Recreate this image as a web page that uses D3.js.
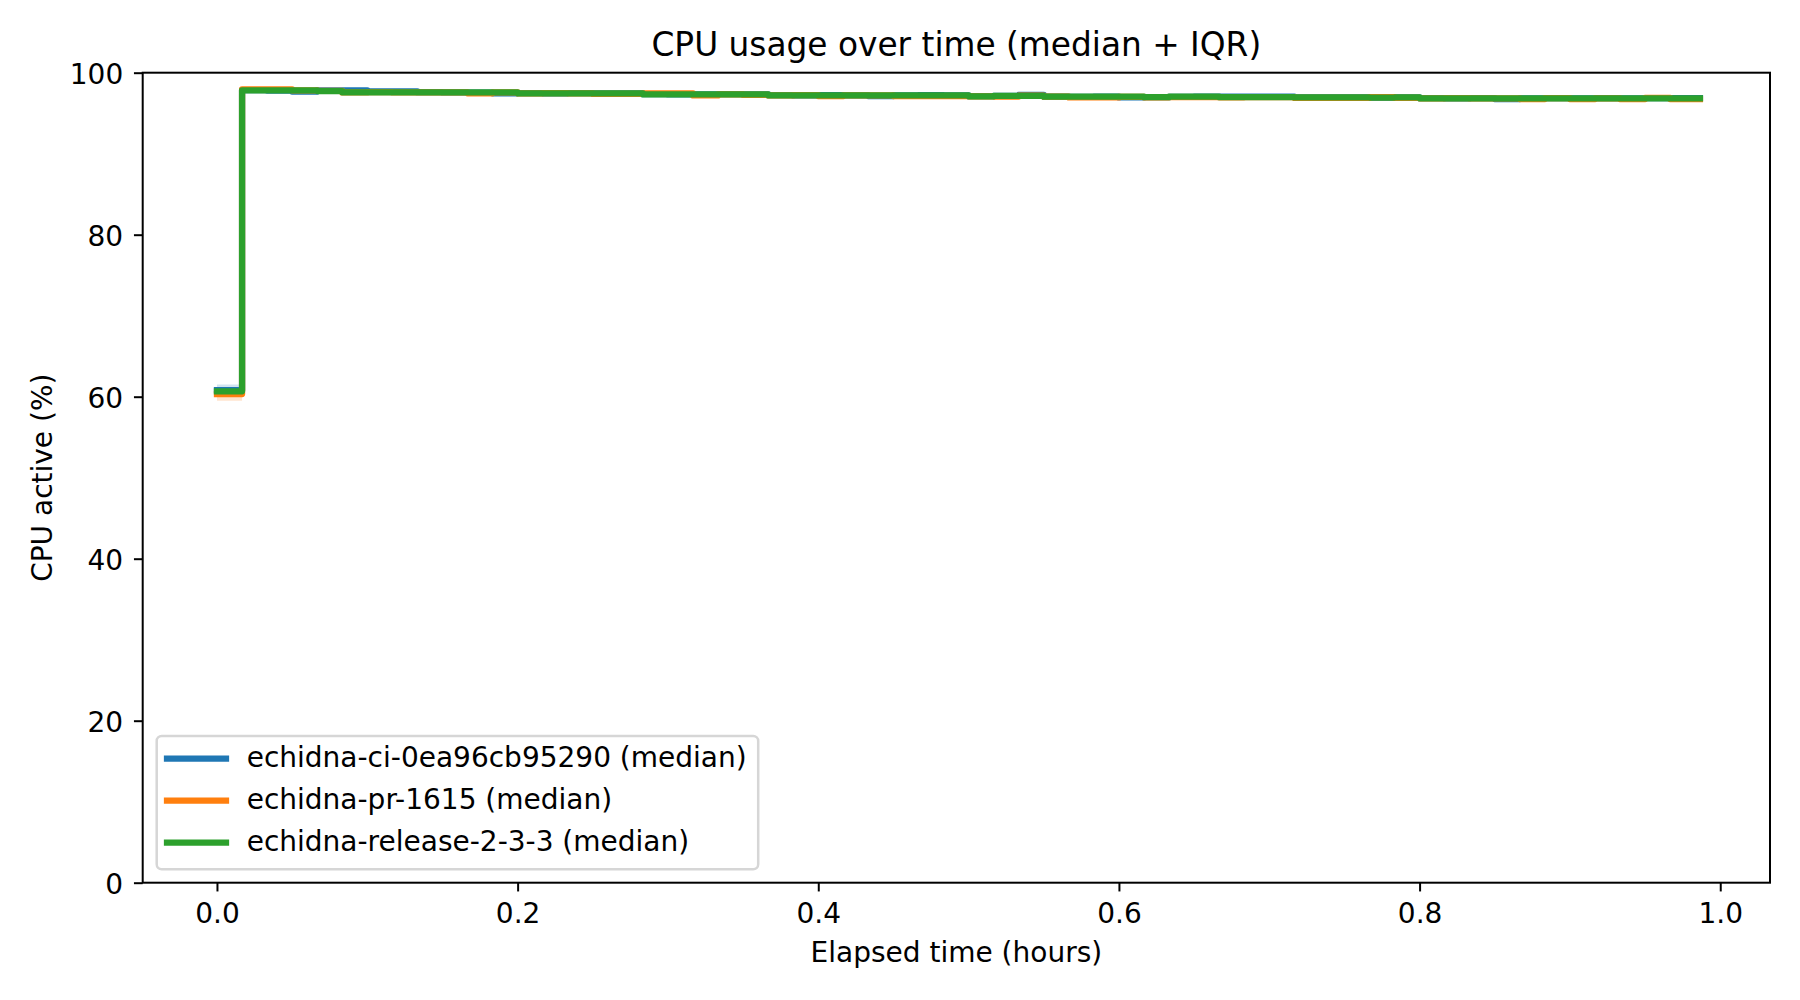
<!DOCTYPE html>
<html>
<head>
<meta charset="utf-8">
<script src="https://cdn.jsdelivr.net/npm/d3@7"></script>
<style>
  html, body { margin: 0; padding: 0; background: #ffffff; }
  svg { display: block; font-family: "DejaVu Sans", sans-serif; }
</style>
</head>
<body>
<svg id="chart" width="1800" height="1000"></svg>
<script>
// ---------------- DATA ----------------
const chartTitle = "CPU usage over time (median + IQR)";
const xLabel = "Elapsed time (hours)";
const yLabel = "CPU active (%)";
const xTicks = [0.0, 0.2, 0.4, 0.6, 0.8, 1.0];
const xTickLabels = ["0.0", "0.2", "0.4", "0.6", "0.8", "1.0"];
const yTicks = [0, 20, 40, 60, 80, 100];
const yTickLabels = ["0", "20", "40", "60", "80", "100"];

const seriesNames = [
  "echidna-ci-0ea96cb95290 (median)",
  "echidna-pr-1615 (median)",
  "echidna-release-2-3-3 (median)"
];

// step start times (hours)
const times = [
  0.0000,0.0167,0.0333,0.0500,0.0667,0.0833,0.1000,0.1167,0.1333,0.1500,
  0.1667,0.1833,0.2000,0.2167,0.2333,0.2500,0.2667,0.2833,0.3000,0.3167,
  0.3333,0.3500,0.3667,0.3833,0.4000,0.4167,0.4333,0.4500,0.4667,0.4833,
  0.5000,0.5167,0.5333,0.5500,0.5667,0.5833,0.6000,0.6167,0.6333,0.6500,
  0.6667,0.6833,0.7000,0.7167,0.7333,0.7500,0.7667,0.7833,0.8000,0.8167,
  0.8333,0.8500,0.8667,0.8833,0.9000,0.9167,0.9333,0.9500,0.9667
];
const endTime = 0.9865;

const ciMedian = [
  60.80,97.85,97.80,97.67,97.82,97.83,97.70,97.70,97.60,97.56,
  97.55,97.46,97.48,97.45,97.47,97.44,97.46,97.34,97.31,97.33,
  97.35,97.32,97.22,97.20,97.23,97.19,97.12,97.20,97.22,97.21,
  97.10,97.14,97.25,97.05,97.03,97.05,96.95,96.97,97.03,97.05,
  97.05,97.05,97.05,96.96,96.94,96.95,96.93,96.96,96.85,96.83,
  96.86,96.75,96.84,96.85,96.83,96.86,96.84,96.85,96.86
];
const ciQ1 = [
  60.20,97.63,97.57,97.46,97.60,97.62,97.49,97.50,97.39,97.35,
  97.33,97.25,97.27,97.24,97.26,97.22,97.25,97.12,97.10,97.11,
  97.14,97.10,97.01,96.99,97.01,96.97,96.91,96.98,97.00,97.00,
  96.89,96.92,97.03,96.84,96.82,96.83,96.74,96.76,96.81,96.83,
  96.84,96.83,96.84,96.75,96.72,96.74,96.71,96.74,96.64,96.62,
  96.65,96.54,96.62,96.64,96.61,96.65,96.62,96.64,96.64
];
const ciQ3 = [
  61.50,98.05,98.01,97.88,98.02,98.04,97.91,97.90,97.81,97.77,
  97.76,97.66,97.69,97.66,97.67,97.65,97.66,97.55,97.52,97.53,
  97.56,97.53,97.42,97.41,97.43,97.40,97.33,97.41,97.42,97.42,
  97.31,97.35,97.45,97.26,97.24,97.26,97.16,97.18,97.24,97.26,
  97.25,97.26,97.25,97.17,97.15,97.16,97.14,97.17,97.06,97.04,
  97.07,96.96,97.05,97.06,97.04,97.07,97.05,97.06,97.07
];

const prMedian = [
  60.33,97.95,97.95,97.82,97.75,97.57,97.59,97.56,97.58,97.57,
  97.46,97.57,97.45,97.47,97.46,97.38,97.38,97.45,97.45,97.20,
  97.32,97.25,97.20,97.22,97.12,97.21,97.20,97.12,97.12,97.12,
  97.08,97.06,97.16,97.04,96.95,96.95,97.03,96.96,96.98,96.98,
  96.96,96.98,96.97,96.88,96.88,96.88,97.00,96.88,96.84,96.85,
  96.83,96.84,96.75,96.85,96.75,96.84,96.75,96.90,96.75
];
const prQ1 = [
  59.50,97.72,97.73,97.60,97.53,97.35,97.37,97.34,97.36,97.35,
  97.24,97.35,97.23,97.25,97.24,97.16,97.16,97.23,97.23,96.98,
  97.10,97.03,96.98,97.00,96.90,96.99,96.98,96.90,96.90,96.90,
  96.86,96.84,96.94,96.82,96.73,96.73,96.81,96.74,96.76,96.76,
  96.74,96.76,96.75,96.66,96.66,96.66,96.78,96.66,96.62,96.63,
  96.61,96.62,96.53,96.63,96.53,96.62,96.53,96.68,96.53
];
const prQ3 = [
  60.90,98.17,98.16,98.04,97.97,97.79,97.81,97.78,97.80,97.79,
  97.68,97.79,97.67,97.69,97.68,97.60,97.60,97.67,97.67,97.42,
  97.54,97.47,97.42,97.44,97.34,97.43,97.42,97.34,97.34,97.34,
  97.30,97.28,97.38,97.26,97.17,97.17,97.25,97.18,97.20,97.20,
  97.18,97.20,97.19,97.10,97.10,97.10,97.22,97.10,97.06,97.07,
  97.05,97.06,96.97,97.07,96.97,97.06,96.97,97.12,96.97
];

const relMedian = [
  60.67,97.83,97.83,97.83,97.74,97.58,97.58,97.58,97.58,97.58,
  97.58,97.58,97.46,97.46,97.46,97.46,97.46,97.33,97.33,97.33,
  97.33,97.33,97.21,97.21,97.21,97.21,97.21,97.21,97.21,97.21,
  97.09,97.15,97.15,97.04,97.04,97.04,97.04,96.97,97.04,97.04,
  96.97,96.97,96.97,96.95,96.95,96.95,96.93,96.95,96.84,96.84,
  96.84,96.84,96.84,96.84,96.84,96.84,96.84,96.84,96.84
];
const relQ1 = [
  60.30,97.64,97.62,97.63,97.55,97.39,97.38,97.39,97.37,97.39,
  97.38,97.39,97.27,97.26,97.27,97.25,97.27,97.14,97.13,97.14,
  97.12,97.14,97.02,97.01,97.02,97.00,97.02,97.01,97.02,97.00,
  96.90,96.95,96.96,96.85,96.84,96.85,96.83,96.78,96.84,96.85,
  96.78,96.77,96.78,96.76,96.75,96.76,96.74,96.76,96.65,96.64,
  96.65,96.63,96.65,96.64,96.65,96.63,96.65,96.64,96.65
];
const relQ3 = [
  61.00,98.02,98.03,98.02,97.93,97.77,97.78,97.77,97.79,97.77,
  97.78,97.77,97.65,97.66,97.65,97.67,97.65,97.52,97.53,97.52,
  97.54,97.52,97.40,97.41,97.40,97.42,97.40,97.41,97.40,97.42,
  97.28,97.35,97.34,97.23,97.24,97.23,97.25,97.16,97.24,97.23,
  97.16,97.17,97.16,97.14,97.15,97.14,97.12,97.14,97.03,97.04,
  97.03,97.05,97.03,97.04,97.03,97.05,97.03,97.04,97.03
];

const seriesColors = ["#1f77b4", "#ff7f0e", "#2ca02c"];

// ---------------- BUILD ----------------
const medians = [ciMedian, prMedian, relMedian];
const q1s = [ciQ1, prQ1, relQ1];
const q3s = [ciQ3, prQ3, relQ3];

function buildPoints(k) {
  const pts = times.map((t, i) => ({ t: t, m: medians[k][i], lo: q1s[k][i], hi: q3s[k][i] }));
  const last = pts[pts.length - 1];
  pts.push({ t: endTime, m: last.m, lo: last.lo, hi: last.hi });
  return pts;
}
const series = seriesNames.map((name, k) => ({ name: name, color: seriesColors[k], points: buildPoints(k) }));

const svg = d3.select("#chart");
const plot = { left: 142.7, right: 1770, top: 72.7, bottom: 882.7 };
const fontTitle = 32.8;
const fontText = 28;

const x = d3.scaleLinear().domain([-0.0494, 1.0331]).range([plot.left, plot.right]);
const y = d3.scaleLinear().domain([0, 100]).range([plot.bottom, plot.top]);

svg.append("rect").attr("x", 0).attr("y", 0).attr("width", 1800).attr("height", 1000).attr("fill", "#ffffff");

const gData = svg.append("g");

const area = d3.area()
  .x(d => x(d.t)).y0(d => y(d.lo)).y1(d => y(d.hi))
  .curve(d3.curveStepAfter);
const line = d3.line()
  .x(d => x(d.t)).y(d => y(d.m))
  .curve(d3.curveStepAfter);

series.forEach(s => {
  gData.append("path")
    .attr("d", area(s.points))
    .attr("fill", s.color)
    .attr("fill-opacity", 0.2)
    .attr("stroke", "none");
});
series.forEach(s => {
  gData.append("path")
    .attr("d", line(s.points))
    .attr("fill", "none")
    .attr("stroke", s.color)
    .attr("stroke-width", 6.25)
    .attr("stroke-linejoin", "round")
    .attr("stroke-linecap", "square");
});

// axes
const xAxis = d3.axisBottom(x).tickValues(xTicks)
  .tickFormat((d, i) => xTickLabels[i]).tickSize(8.75).tickPadding(8.75);
const yAxis = d3.axisLeft(y).tickValues(yTicks)
  .tickFormat((d, i) => yTickLabels[i]).tickSize(8.75).tickPadding(8.75);

const gx = svg.append("g").attr("transform", `translate(0,${plot.bottom})`).call(xAxis);
const gy = svg.append("g").attr("transform", `translate(${plot.left},0)`).call(yAxis);

[gx, gy].forEach(g => {
  g.select(".domain").remove();
  g.selectAll(".tick line").attr("stroke", "#000").attr("stroke-width", 2);
  g.selectAll(".tick text")
    .attr("fill", "#000")
    .attr("font-family", "DejaVu Sans")
    .attr("font-size", fontText);
});
gx.selectAll(".tick text").attr("dy", null).attr("y", 923.3 - plot.bottom);
gy.selectAll(".tick text").attr("dy", "0.4em").attr("x", -19.5);

// spines
svg.append("rect")
  .attr("x", plot.left).attr("y", plot.top)
  .attr("width", plot.right - plot.left).attr("height", plot.bottom - plot.top)
  .attr("fill", "none").attr("stroke", "#000").attr("stroke-width", 2);

// title and labels
const cx = (plot.left + plot.right) / 2;
svg.append("text").text(chartTitle)
  .attr("x", cx).attr("y", 56).attr("text-anchor", "middle")
  .attr("font-size", fontTitle).attr("fill", "#000");
svg.append("text").text(xLabel)
  .attr("x", cx).attr("y", 961.7).attr("text-anchor", "middle")
  .attr("font-size", fontText).attr("fill", "#000");
svg.append("text").text(yLabel)
  .attr("transform", `translate(51.7,${(plot.top + plot.bottom) / 2}) rotate(-90)`)
  .attr("text-anchor", "middle")
  .attr("font-size", fontText).attr("fill", "#000");

// legend
const legend = svg.append("g");
legend.append("rect")
  .attr("x", 156.7).attr("y", 736).attr("width", 601.5).attr("height", 133.3)
  .attr("rx", 5).attr("ry", 5)
  .attr("fill", "#ffffff").attr("fill-opacity", 0.8)
  .attr("stroke", "#d6d6d6").attr("stroke-width", 2.5);
const rowY = [758.7, 800.5, 842.5];
series.forEach((s, k) => {
  legend.append("line")
    .attr("x1", 167).attr("x2", 226).attr("y1", rowY[k]).attr("y2", rowY[k])
    .attr("stroke", s.color).attr("stroke-width", 6.25).attr("stroke-linecap", "square");
  legend.append("text").text(s.name)
    .attr("x", 246.7).attr("y", rowY[k]).attr("dy", "0.3em")
    .attr("font-size", fontText).attr("fill", "#000");
});
</script>
</body>
</html>
